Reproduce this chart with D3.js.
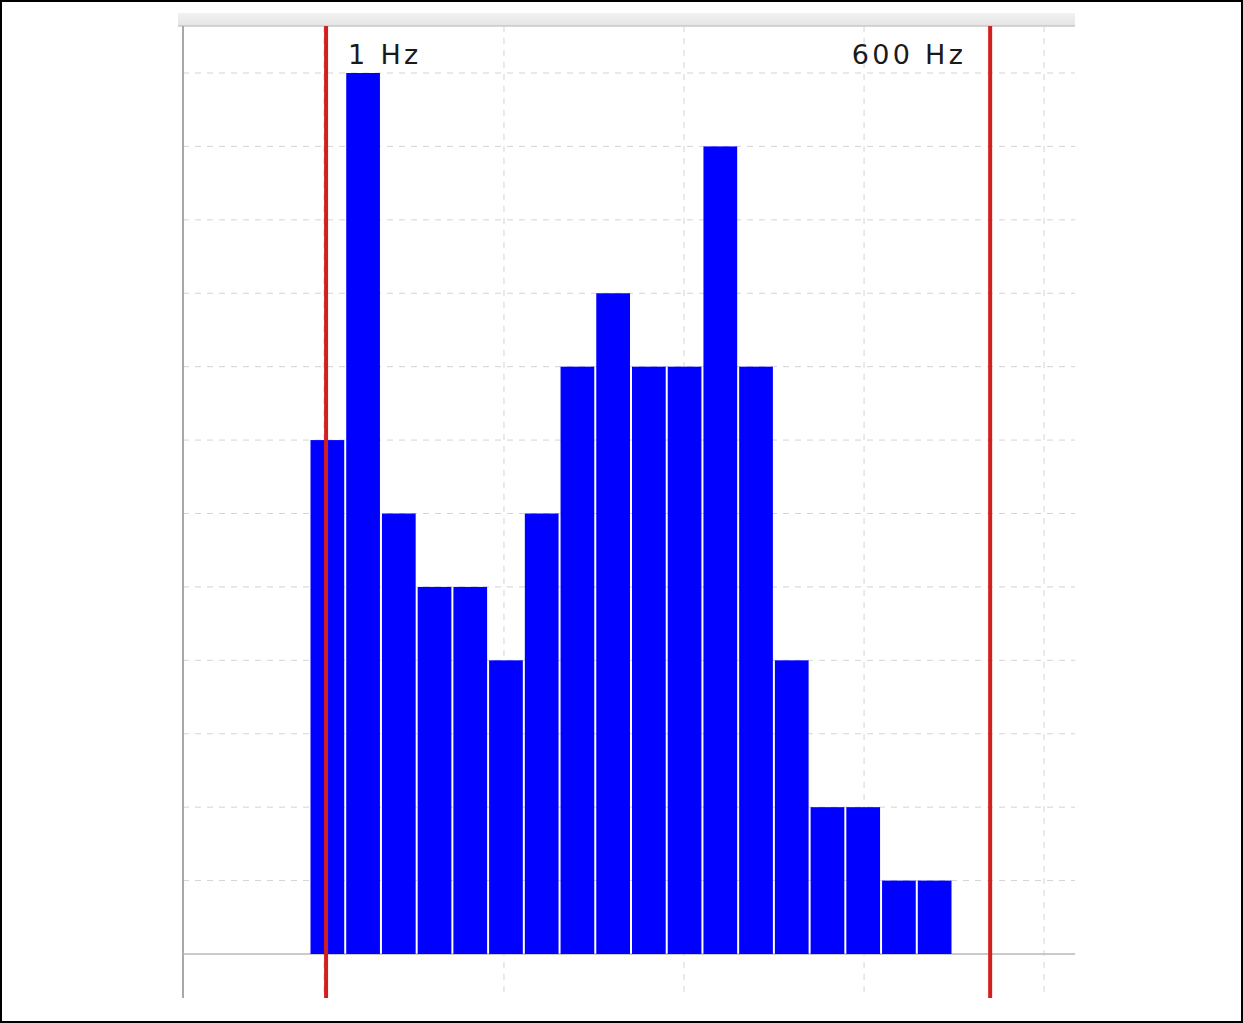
<!DOCTYPE html>
<html><head><meta charset="utf-8">
<script src="https://cdn.jsdelivr.net/npm/d3@7/dist/d3.min.js"></script>
<style>body{margin:0;background:#fff}svg{display:block}</style>
</head><body>
<svg id="c" width="1243" height="1023"></svg>
<script>
// histogram bin counts (18 bins)
const binCounts = [7,12,6,5,5,4,6,8,9,8,8,11,8,4,2,2,1,1];
// y grid ticks (counts)
const yTicks = [0,1,2,3,4,5,6,7,8,9,10,11,12];
// vertical grid positions (bin units)
const xGrid = [0.39, 5.43, 10.47, 15.51, 20.55];
// frequency markers (bin units)
const markerLabels = ["1 Hz","600 Hz"];
const markerPos = [0.45, 19.04];

const svg = d3.select("#c");
const W = 1243, H = 1023;
const plot = {left:183, right:1075, top:26, bottom:998};

const x = d3.scaleLinear().domain([0,18]).range([310,953]);
const y = d3.scaleLinear().domain([0,12]).range([954,73]);

// outer frame
svg.append("rect").attr("x",1).attr("y",1).attr("width",W-2).attr("height",H-2)
  .attr("fill","#fff").attr("stroke","#000").attr("stroke-width",2);

// top band
const grad = svg.append("defs").append("linearGradient").attr("id","band").attr("x1",0).attr("x2",0).attr("y1",0).attr("y2",1);
grad.append("stop").attr("offset","0%").attr("stop-color","#f2f2f2");
grad.append("stop").attr("offset","100%").attr("stop-color","#e4e4e4");
svg.append("rect").attr("x",178).attr("y",13).attr("width",plot.right-178).attr("height",13).attr("fill","url(#band)");
svg.append("line").attr("x1",178).attr("x2",plot.right).attr("y1",26).attr("y2",26).attr("stroke","#c8c8c8").attr("stroke-width",1.5);

// horizontal grid
svg.append("g").selectAll("line").data(yTicks.filter(d=>d>0)).join("line")
  .attr("x1",plot.left).attr("x2",plot.right)
  .attr("y1",d=>y(d)).attr("y2",d=>y(d))
  .attr("stroke","#d4d4d4").attr("stroke-width",1).attr("stroke-dasharray","6,6");

// vertical grid
svg.append("g").selectAll("line").data(xGrid).join("line")
  .attr("x1",d=>x(d)).attr("x2",d=>x(d))
  .attr("y1",plot.top).attr("y2",plot.bottom)
  .attr("stroke","#d4d4d4").attr("stroke-width",1).attr("stroke-dasharray","6,6");

// axes lines
svg.append("line").attr("x1",plot.left).attr("x2",plot.left).attr("y1",plot.top).attr("y2",plot.bottom)
  .attr("stroke","#a8a8a8").attr("stroke-width",2);
svg.append("line").attr("x1",plot.left).attr("x2",plot.right).attr("y1",y(0)).attr("y2",y(0))
  .attr("stroke","#b8b8b8").attr("stroke-width",1.5);

// bars
svg.append("g").selectAll("rect").data(binCounts).join("rect")
  .attr("x",(d,i)=>x(i)+0.5)
  .attr("width",(d,i)=>x(i+1)-x(i)-2)
  .attr("y",d=>y(d))
  .attr("height",d=>y(0)-y(d))
  .attr("fill","#0000ff");

// markers
svg.append("g").selectAll("line").data(markerPos).join("line")
  .attr("x1",d=>x(d)).attr("x2",d=>x(d))
  .attr("y1",plot.top).attr("y2",plot.bottom)
  .attr("stroke","#d21f1f").attr("stroke-width",4);

svg.append("g").selectAll("text").data(markerLabels).join("text")
  .attr("x",(d,i)=> i===0 ? x(markerPos[i])+22 : x(markerPos[i])-24)
  .attr("y",64)
  .attr("text-anchor",(d,i)=> i===0 ? "start" : "end")
  .attr("font-family","DejaVu Sans")
  .attr("font-size",27)
  .attr("letter-spacing",3.3)
  .attr("fill","#1a1a1a")
  .text(d=>d);
</script>
</body></html>
